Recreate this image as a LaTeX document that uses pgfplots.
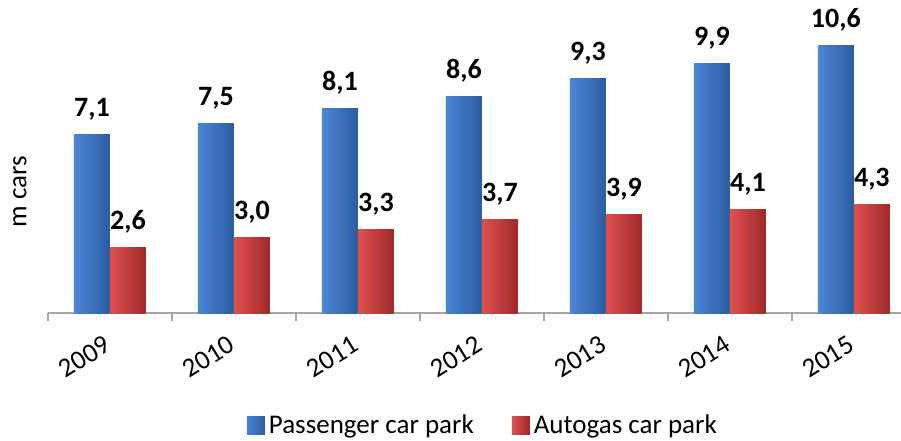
\documentclass[border=0pt]{standalone}
\usepackage{pgfplots}
\pgfplotsset{compat=1.18}
\usepackage{fontspec}
\setmainfont{Carlito}
\definecolor{bL}{HTML}{4A86D6}
\definecolor{bM}{HTML}{3B77C7}
\definecolor{bR}{HTML}{2C5CA0}
\definecolor{rL}{HTML}{E05050}
\definecolor{rM}{HTML}{D03B3B}
\definecolor{rR}{HTML}{9E2929}
\definecolor{axgray}{HTML}{A6A6A6}
\pgfplotsset{
  bbar/.style={ybar, bar width=18pt, bar shift=0pt, draw=none, left color=bL, middle color=bM, right color=bR, forget plot},
  rbar/.style={ybar, bar width=18pt, bar shift=0pt, draw=none, left color=rL, middle color=rM, right color=rR, forget plot},
}
\begin{document}
\begin{tikzpicture}
\begin{axis}[
  scale only axis, width=426.5pt, height=156.5pt,
  at={(0,0)}, anchor=south west,
  xmin=-0.5, xmax=6.38, ymin=0, ymax=12.42,
  clip=false,
  axis x line*=bottom, axis y line*=left,
  y axis line style={draw=none}, ytick=\empty,
  x axis line style={draw=axgray, line width=0.9pt},
  xtick={0,...,6},
  xticklabels={2009,2010,2011,2012,2013,2014,2015},
  major tick length=0pt,
  minor xtick={-0.5,0.5,1.5,2.5,3.5,4.5,5.5},
  minor tick length=4pt,
  tick align=outside,
  every minor tick/.append style={draw=axgray, line width=0.9pt},
  xticklabel style={xshift=-1pt, yshift=-14.5pt, rotate=32, anchor=east, inner sep=0pt, font=\fontsize{13.5}{15}\selectfont},
  every axis y label/.style={at={(rel axis cs:0,0.387)}, xshift=-14pt, rotate=90, anchor=center, font=\fontsize{13.5}{15}\selectfont},
  ylabel={m cars},
  nodes near coords={\pgfmathprintnumber[fixed,fixed zerofill,precision=1,use comma,assume math mode=true]{\pgfplotspointmeta}},
  every node near coord/.append style={font=\bfseries\fontsize{14}{16}\selectfont, anchor=base, yshift=9pt, text=black},
  legend style={at={(0.511,-0.361)}, anchor=center, draw=none, fill=none, legend columns=2,
    font=\fontsize{13.5}{15}\selectfont, /tikz/every even column/.append style={column sep=17pt}},
  legend cell align=left,
  legend image code/.code={\fill[#1] (0pt,-4.5pt) rectangle (9pt,4.5pt);},
]
\addlegendimage{draw=none, left color=bL, middle color=bM, right color=bR}
\addlegendimage{draw=none, left color=rL, middle color=rM, right color=rR}
% Passenger car park (blue), placed left of each category centre
\addplot[bbar] coordinates {(-0.1452,7.1)};
\addplot[bbar] coordinates {(0.8548,7.5)};
\addplot[bbar] coordinates {(1.8548,8.1)};
\addplot[bbar] coordinates {(2.8548,8.6)};
\addplot[bbar] coordinates {(3.8548,9.3)};
\addplot[bbar] coordinates {(4.8548,9.9)};
\addplot[bbar] coordinates {(5.8548,10.6)};
% Autogas car park (red), right of each category centre
\addplot[rbar] coordinates {(0.1452,2.6)};
\addplot[rbar] coordinates {(1.1452,3.0)};
\addplot[rbar] coordinates {(2.1452,3.3)};
\addplot[rbar] coordinates {(3.1452,3.7)};
\addplot[rbar] coordinates {(4.1452,3.9)};
\addplot[rbar] coordinates {(5.1452,4.1)};
\addplot[rbar] coordinates {(6.1452,4.3)};
\legend{Passenger car park, Autogas car park}
\end{axis}
\pgfresetboundingbox
\path[use as bounding box] (-24pt,-63.5pt) rectangle (426.5pt,156.5pt);
\end{tikzpicture}
\end{document}
